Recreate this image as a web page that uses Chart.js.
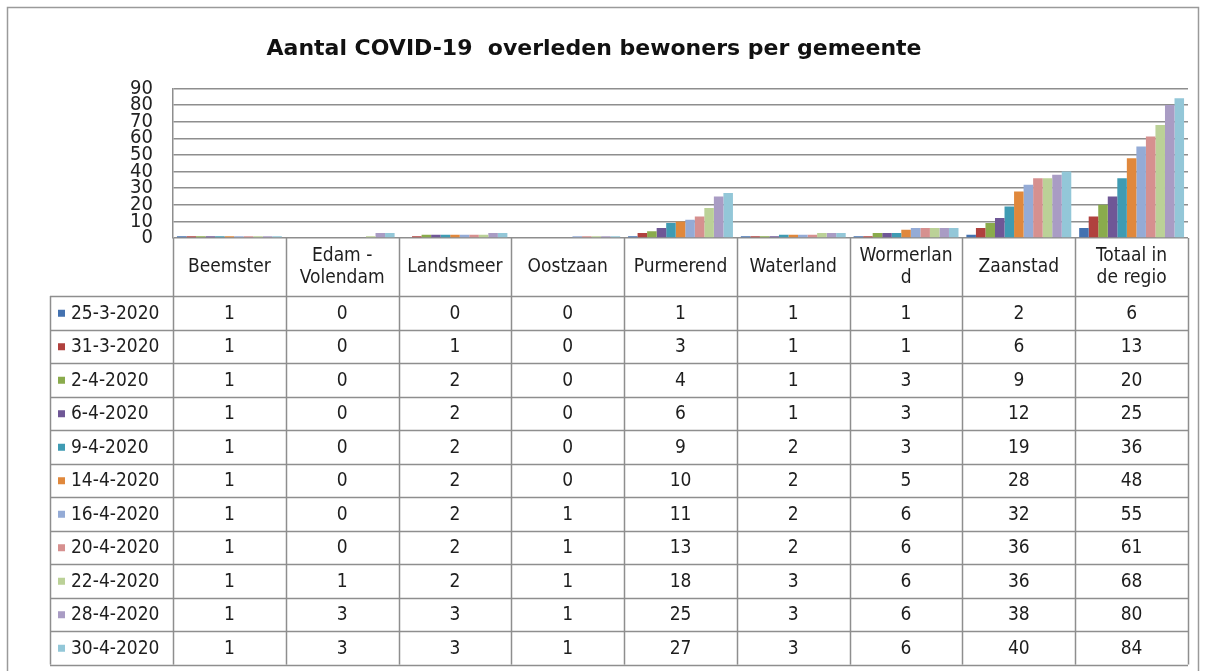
<!DOCTYPE html>
<html>
<head>
<meta charset="utf-8">
<script src="https://cdn.jsdelivr.net/npm/chart.js@4.4.0/dist/chart.umd.min.js"></script>
<style>
  body { margin: 0; background: #fff; }
</style>
</head>
<body>
<canvas id="chartOverleden" width="1205" height="671"></canvas>
<script>
const gemeenten = [
  ['Beemster'], ['Edam -', 'Volendam'], ['Landsmeer'], ['Oostzaan'], ['Purmerend'],
  ['Waterland'], ['Wormerlan', 'd'], ['Zaanstad'], ['Totaal in', 'de regio']
];
const datums = ['25-3-2020', '31-3-2020', '2-4-2020', '6-4-2020', '9-4-2020', '14-4-2020',
  '16-4-2020', '20-4-2020', '22-4-2020', '28-4-2020', '30-4-2020'];

const d25_3 = [1, 0, 0, 0, 1, 1, 1, 2, 6];
const d31_3 = [1, 0, 1, 0, 3, 1, 1, 6, 13];
const d2_4 = [1, 0, 2, 0, 4, 1, 3, 9, 20];
const d6_4 = [1, 0, 2, 0, 6, 1, 3, 12, 25];
const d9_4 = [1, 0, 2, 0, 9, 2, 3, 19, 36];
const d14_4 = [1, 0, 2, 0, 10, 2, 5, 28, 48];
const d16_4 = [1, 0, 2, 1, 11, 2, 6, 32, 55];
const d20_4 = [1, 0, 2, 1, 13, 2, 6, 36, 61];
const d22_4 = [1, 1, 2, 1, 18, 3, 6, 36, 68];
const d28_4 = [1, 3, 3, 1, 25, 3, 6, 38, 80];
const d30_4 = [1, 3, 3, 1, 27, 3, 6, 40, 84];

const reeksen = [d25_3, d31_3, d2_4, d6_4, d9_4, d14_4, d16_4, d20_4, d22_4, d28_4, d30_4];

const kleuren = ['#4472b0', '#b0413e', '#8aab4c', '#6f5796', '#3f9bb3', '#e0883c',
  '#94abd6', '#d6908f', '#bbd197', '#a99cc4', '#93c7d8'];

const fontFam = '"DejaVu Sans Condensed", "DejaVu Sans", sans-serif';
const lijnKleur = '#8e8e8e';

// frame around the whole chart
const kader = {
  id: 'kader',
  beforeDraw(chart) {
    const ctx = chart.ctx;
    ctx.save();
    ctx.strokeStyle = '#9a9a9a';
    ctx.lineWidth = 1.5;
    ctx.strokeRect(7.5, 7.5, 1191, 680);
    ctx.restore();
  }
};

// data table under the plot, like excel does it
const tabel = {
  id: 'tabel',
  afterDraw(chart) {
    const ctx = chart.ctx;
    const a = chart.chartArea;
    const x = chart.scales.x;
    const colW = a.width / gemeenten.length;
    const kopH = 58;
    const rijH = 33.5;
    const legLinks = 50;
    const kopOnder = a.bottom + kopH;
    const onder = kopOnder + rijH * datums.length;

    ctx.save();
    ctx.strokeStyle = lijnKleur;
    ctx.lineWidth = 1.5;
    ctx.beginPath();
    // vertical lines
    for (let i = 0; i <= gemeenten.length; i++) {
      const px = Math.round(a.left + i * colW) + 0.5;
      ctx.moveTo(px, a.bottom);
      ctx.lineTo(px, onder);
    }
    ctx.moveTo(legLinks + 0.5, kopOnder);
    ctx.lineTo(legLinks + 0.5, onder);
    // horizontal lines
    for (let r = 0; r <= datums.length; r++) {
      const py = Math.round(kopOnder + r * rijH) + 0.5;
      ctx.moveTo(legLinks, py);
      ctx.lineTo(a.right, py);
    }
    ctx.stroke();

    ctx.fillStyle = '#1e1e1e';
    ctx.font = '19px ' + fontFam;
    ctx.textAlign = 'center';
    ctx.textBaseline = 'middle';

    // header
    gemeenten.forEach((naam, i) => {
      const cx = x.getPixelForValue(i);
      const regels = naam.length;
      naam.forEach((regel, j) => {
        const cy = a.bottom + kopH / 2 + (j - (regels - 1) / 2) * 22;
        ctx.fillText(regel, cx, cy);
      });
    });

    // rows
    datums.forEach((datum, r) => {
      const cy = kopOnder + r * rijH + rijH / 2 + 1;
      ctx.fillStyle = kleuren[r];
      ctx.fillRect(legLinks + 8, cy - 4, 7, 7);
      ctx.fillStyle = '#1e1e1e';
      ctx.textAlign = 'left';
      ctx.fillText(datum, legLinks + 21, cy);
      ctx.textAlign = 'center';
      reeksen[r].forEach((v, i) => {
        ctx.fillText(String(v), x.getPixelForValue(i), cy);
      });
    });
    ctx.restore();
  }
};

const ctx = document.getElementById('chartOverleden').getContext('2d');

const myChart = new Chart(ctx, {
  type: 'bar',
  data: {
    labels: gemeenten,
    datasets: reeksen.map((r, i) => ({
      label: datums[i],
      data: r,
      backgroundColor: kleuren[i],
      borderWidth: 0,
      categoryPercentage: 0.93,
      barPercentage: 1.0
    }))
  },
  options: {
    responsive: false,
    animation: false,
    layout: {
      padding: { left: 0, right: 17, top: 0, bottom: 433 }
    },
    plugins: {
      legend: { display: false },
      tooltip: { enabled: false },
      title: {
        display: true,
        text: 'Aantal COVID-19  overleden bewoners per gemeente',
        color: '#111',
        font: { family: '"DejaVu Sans", sans-serif', size: 22, weight: 'bold' },
        padding: { top: 36, bottom: 26 }
      }
    },
    scales: {
      x: {
        display: false
      },
      y: {
        min: 0,
        max: 90,
        afterFit(scale) { scale.width = 173; },
        border: { display: true, color: lijnKleur, width: 1.5 },
        grid: { color: lijnKleur, lineWidth: 1.5, drawTicks: false },
        ticks: {
          stepSize: 10,
          autoSkip: false,
          padding: 20,
          color: '#222',
          font: { family: fontFam, size: 20, lineHeight: 1 }
        }
      }
    }
  },
  plugins: [kader, tabel]
});
</script>
</body>
</html>
